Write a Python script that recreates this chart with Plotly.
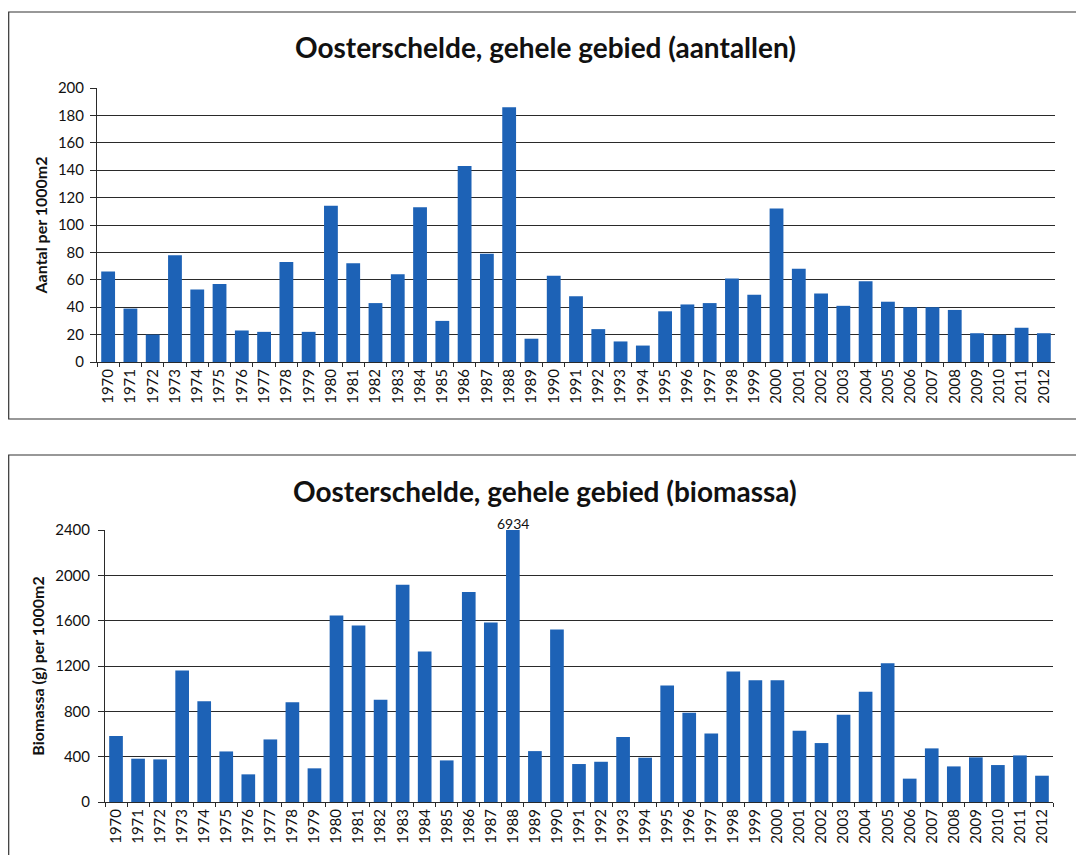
import plotly.graph_objects as go
from plotly.subplots import make_subplots

# jaren en waarden
years = [str(y) for y in range(1970, 2013)]

aantallen = [66, 39, 20, 78, 53, 57, 23, 22, 73, 22,
             114, 72, 43, 64, 113, 30, 143, 79, 186, 17,
             63, 48, 24, 15, 12, 37, 42, 43, 61, 49,
             112, 68, 50, 41, 59, 44, 40, 40, 38, 21,
             20, 25, 21]

biomassa = [582, 382, 376, 1160, 890, 446, 244, 552, 881, 297,
            1645, 1557, 902, 1918, 1328, 367, 1854, 1583, 6934, 449,
            1522, 335, 355, 573, 391, 1028, 787, 605, 1152, 1075,
            1075, 629, 520, 770, 972, 1225, 206, 473, 314, 394,
            326, 411, 232]

titles = ["Oosterschelde, gehele gebied (aantallen)",
          "Oosterschelde, gehele gebied (biomassa)"]
ytitles = ["Aantal per 1000m2", "Biomassa (g) per 1000m2"]

W, H = 1084, 855
OFF = 8  # pagina-marge van de browser
BAR = '#1d62b6'
GRID = '#2a2a2a'
FONT = "Lato, 'Open Sans', sans-serif"


def px_x(v):
    return (v - OFF) / W


def px_y(v):
    return 1 - (v - OFF) / H


fig = make_subplots(rows=2, cols=1)

fig.add_trace(go.Bar(x=years, y=aantallen, marker_color=BAR,
                     marker_line_width=0, showlegend=False), row=1, col=1)
fig.add_trace(go.Bar(x=years, y=biomassa, marker_color=BAR,
                     marker_line_width=0, showlegend=False), row=2, col=1)

tickfont = dict(size=15, color='#111', family=FONT)

fig.update_xaxes(type='category', tickson='boundaries', tickangle=-90,
                 showgrid=False, showline=True, linecolor=GRID, linewidth=1,
                 ticks='outside', tickcolor=GRID, ticklen=4,
                 tickfont=tickfont, automargin=False,
                 range=[-0.5, len(years) - 0.5])
fig.update_yaxes(showgrid=True, gridcolor=GRID, gridwidth=1.2, zeroline=False,
                 showline=True, linecolor=GRID, linewidth=1,
                 ticks='outside', tickcolor=GRID, ticklen=6,
                 tickfont=tickfont, automargin=False)

fig.update_layout(
    width=W, height=H,
    margin=dict(l=0, r=0, t=0, b=0),
    paper_bgcolor='white', plot_bgcolor='white',
    bargap=0.38,
    font=dict(family=FONT, color='#111'),
    xaxis=dict(domain=[px_x(97), px_x(1055)]),
    yaxis=dict(domain=[px_y(362), px_y(88)], range=[0, 200], dtick=20,
               ticklabelstandoff=3,
               title=dict(text='<b>' + ytitles[0] + '</b>', font=dict(size=16), standoff=6)),
    xaxis2=dict(domain=[px_x(105), px_x(1053)]),
    yaxis2=dict(domain=[px_y(802), px_y(530)], range=[0, 2400], dtick=400,
                ticklabelstandoff=5,
                title=dict(text='<b>' + ytitles[1] + '</b>', font=dict(size=16), standoff=6)),
)

# titels
fig.add_annotation(text='<b>' + titles[0] + '</b>', xref='paper', yref='paper',
                   x=px_x(545), y=px_y(47), yanchor='middle', showarrow=False,
                   font=dict(size=28, color='#111'))
fig.add_annotation(text='<b>' + titles[1] + '</b>', xref='paper', yref='paper',
                   x=px_x(545), y=px_y(491), yanchor='middle', showarrow=False,
                   font=dict(size=28, color='#111'))

# afgekapte balk 1988: waarde als label boven de as
top_idx = biomassa.index(max(biomassa))
fig.add_annotation(text=str(biomassa[top_idx]), xref='x2', yref='y2',
                   x=top_idx, y=2400, yanchor='bottom', showarrow=False,
                   yshift=-4, font=dict(size=14, color='#111'))

# kaders rond de grafieken
fig.add_shape(type='rect', xref='paper', yref='paper',
              x0=px_x(8.7), x1=px_x(1079), y0=px_y(419), y1=px_y(12),
              line=dict(color='#333', width=1.2))
fig.add_shape(type='rect', xref='paper', yref='paper',
              x0=px_x(8.7), x1=px_x(1079), y0=px_y(900), y1=px_y(455),
              line=dict(color='#333', width=1.2))

fig.write_html("out.html")
